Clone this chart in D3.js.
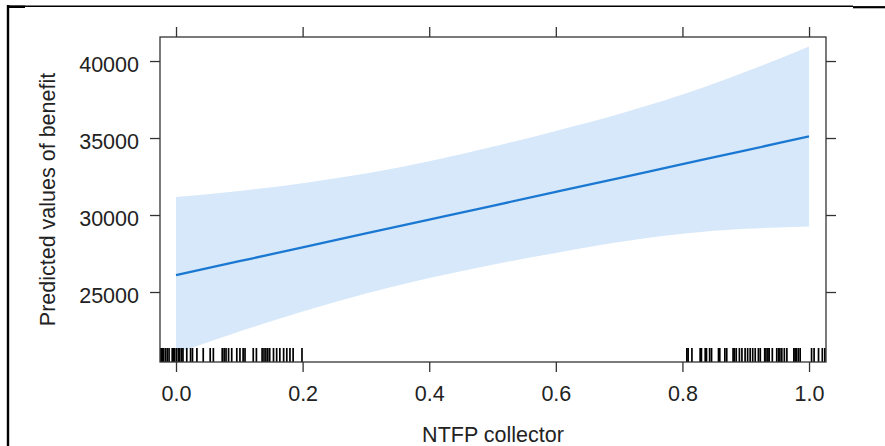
<!DOCTYPE html>
<html>
<head>
<meta charset="utf-8">
<script src="https://cdn.jsdelivr.net/npm/d3@7"></script>
<style>
  html, body { margin: 0; padding: 0; background: #fff; }
  svg { display: block; }
  text { font-family: "Liberation Sans", Arial, sans-serif; fill: #222; }
</style>
</head>
<body>
<svg id="chart" width="885" height="446"></svg>
<script>
// Effect of NTFP collector on predicted benefit
const xGrid = [0, 0.1, 0.2, 0.3, 0.4, 0.5, 0.6, 0.7, 0.8, 0.9, 1.0];
const fitValues = [26100, 27000, 27900, 28800, 29700, 30600, 31500, 32400, 33300, 34200, 35100];
const upperValues = [31170, 31560, 32070, 32700, 33490, 34430, 35460, 36560, 37820, 39300, 40950];
const lowerValues = [21030, 22440, 23730, 24900, 25910, 26770, 27540, 28240, 28780, 29100, 29250];

// jittered observations shown as a rug
const rugValues = [
  -0.026, -0.0245, -0.023, -0.021, -0.020, -0.017, -0.014, -0.011, -0.006, -0.004,
  -0.002, 0.001, 0.004, 0.006, 0.009, 0.011, 0.017, 0.023, 0.026, 0.033,
  0.043, 0.054, 0.059, 0.073, 0.076, 0.079, 0.083, 0.088, 0.096, 0.101,
  0.106, 0.109, 0.122, 0.127, 0.136, 0.139, 0.142, 0.145, 0.148, 0.154,
  0.159, 0.164, 0.170, 0.175, 0.180, 0.185, 0.199,
  0.807, 0.809, 0.815, 0.828, 0.830, 0.836, 0.838, 0.843, 0.846, 0.857,
  0.859, 0.867, 0.870, 0.880, 0.882, 0.885, 0.890, 0.894, 0.899, 0.903,
  0.907, 0.911, 0.915, 0.920, 0.923, 0.930, 0.932, 0.935, 0.937, 0.942,
  0.949, 0.952, 0.954, 0.957, 0.961, 0.965, 0.976, 0.978, 0.980, 0.983,
  0.986, 1.004, 1.008, 1.015, 1.021, 1.025
];

const xTicks = [0, 0.2, 0.4, 0.6, 0.8, 1.0];
const xTickLabels = ["0.0", "0.2", "0.4", "0.6", "0.8", "1.0"];
const yTicks = [25000, 30000, 35000, 40000];
const yTickLabels = ["25000", "30000", "35000", "40000"];
const xTitle = "NTFP collector";
const yTitle = "Predicted values of benefit";

const panel = { left: 160, right: 826, top: 37, bottom: 362 };
const fontSize = 21.5;

const svg = d3.select("#chart");

const x = d3.scaleLinear().domain([-0.0253, 1.0268]).range([panel.left, panel.right]);
const y = d3.scaleLinear().domain([20455, 41560]).range([panel.bottom, panel.top]);

const rows = xGrid.map((v, i) => ({ x: v, fit: fitValues[i], lo: lowerValues[i], hi: upperValues[i] }));

svg.append("defs").append("clipPath").attr("id", "panelClip")
  .append("rect")
  .attr("x", panel.left).attr("y", panel.top)
  .attr("width", panel.right - panel.left).attr("height", panel.bottom - panel.top);

const plot = svg.append("g").attr("clip-path", "url(#panelClip)");

// confidence band
plot.append("path")
  .datum(rows)
  .attr("fill", "#d6e8fa")
  .attr("d", d3.area()
    .x(d => x(d.x))
    .y0(d => y(d.lo))
    .y1(d => y(d.hi))
    .curve(d3.curveMonotoneX));

// fitted line
plot.append("path")
  .datum(rows)
  .attr("fill", "none")
  .attr("stroke", "#1b78d2")
  .attr("stroke-width", 2.3)
  .attr("d", d3.line().x(d => x(d.x)).y(d => y(d.fit)).curve(d3.curveMonotoneX));

// rug
plot.append("g").selectAll("line")
  .data(rugValues)
  .join("line")
  .attr("x1", d => x(d)).attr("x2", d => x(d))
  .attr("y1", panel.bottom - 14).attr("y2", panel.bottom)
  .attr("stroke", "#000")
  .attr("stroke-width", 1.7);

// axes on all four sides (labels on left and bottom only)
const tickLen = 10;
const axisStyle = g => {
  g.select(".domain").remove();
  g.selectAll(".tick line").attr("stroke", "#333").attr("stroke-width", 1.3);
  g.selectAll("text").style("font-size", fontSize + "px").attr("fill", "#222");
};

svg.append("g")
  .attr("transform", `translate(${panel.left},0)`)
  .call(d3.axisLeft(y).tickValues(yTicks).tickSize(tickLen).tickPadding(11)
    .tickFormat((d, i) => yTickLabels[i]))
  .call(axisStyle)
  .call(g => g.selectAll("text").attr("dy", "0.49em"));

svg.append("g")
  .attr("transform", `translate(${panel.right},0)`)
  .call(d3.axisRight(y).tickValues(yTicks).tickSize(tickLen).tickFormat(""))
  .call(axisStyle);

svg.append("g")
  .attr("transform", `translate(0,${panel.bottom})`)
  .call(d3.axisBottom(x).tickValues(xTicks).tickSize(tickLen).tickPadding(14)
    .tickFormat((d, i) => xTickLabels[i]))
  .call(axisStyle)
  .call(g => g.selectAll("text").attr("dy", "0.71em"));

svg.append("g")
  .attr("transform", `translate(0,${panel.top})`)
  .call(d3.axisTop(x).tickValues(xTicks).tickSize(tickLen).tickFormat(""))
  .call(axisStyle);

svg.selectAll("g").attr("font-family", null);

// panel box
svg.append("rect")
  .attr("x", panel.left).attr("y", panel.top)
  .attr("width", panel.right - panel.left).attr("height", panel.bottom - panel.top)
  .attr("fill", "none")
  .attr("stroke", "#333")
  .attr("stroke-width", 1.3);

// titles
svg.append("text")
  .attr("x", (panel.left + panel.right) / 2)
  .attr("y", 441.5)
  .attr("text-anchor", "middle")
  .style("font-size", fontSize + "px")
  .text(xTitle);

svg.append("text")
  .attr("transform", `translate(55,${(panel.top + panel.bottom) / 2}) rotate(-90)`)
  .attr("text-anchor", "middle")
  .style("font-size", fontSize + "px")
  .text(yTitle);

// window frame edges
svg.append("line").attr("x1", 8).attr("x2", 8).attr("y1", 5).attr("y2", 446)
  .attr("stroke", "#000").attr("stroke-width", 2.4);
svg.append("line").attr("x1", 7).attr("x2", 853).attr("y1", 6.3).attr("y2", 6.3)
  .attr("stroke", "#000").attr("stroke-width", 1.4);
svg.append("line").attr("x1", 7).attr("x2", 25).attr("y1", 6.8).attr("y2", 6.8)
  .attr("stroke", "#000").attr("stroke-width", 2.4);
svg.append("line").attr("x1", 853).attr("x2", 885).attr("y1", 7.2).attr("y2", 7.2)
  .attr("stroke", "#000").attr("stroke-width", 2.2);
</script>
</body>
</html>
